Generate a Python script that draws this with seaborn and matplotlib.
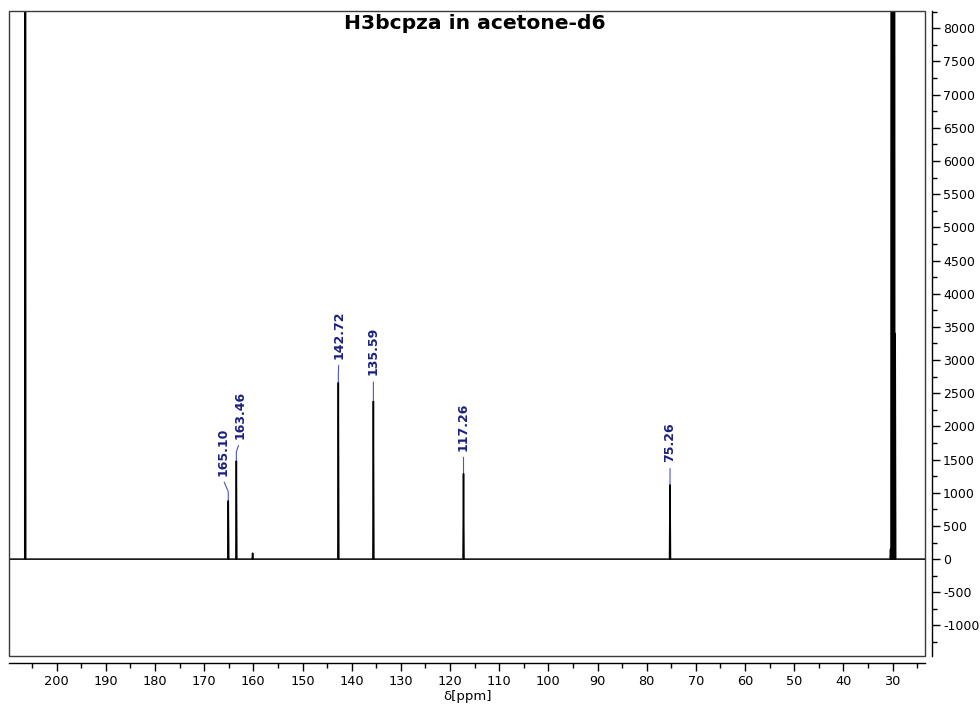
import numpy as np
import pandas as pd
import matplotlib
matplotlib.use('Agg')
import matplotlib.pyplot as plt
from matplotlib.ticker import MultipleLocator, FixedLocator
from matplotlib.patches import Rectangle
import seaborn as sns

sns.set_style('ticks')
plt.rcParams['font.family'] = ['DejaVu Sans']
plt.rcParams['text.color'] = 'black'
plt.rcParams['axes.labelcolor'] = 'black'
plt.rcParams['xtick.color'] = 'black'
plt.rcParams['ytick.color'] = 'black'

# ---------------- data ----------------
title = "H3bcpza in acetone-d6"
x_label = "δ[ppm]"

peak_ppm = [206.40, 165.10, 163.46, 160.15, 142.72, 135.59, 117.26, 75.26,
            30.41, 30.22, 30.03, 29.84, 29.65, 29.46]
peak_int = [40000, 880, 1480, 90, 2660, 2380, 1290, 1120,
            150, 30000, 30000, 30000, 30000, 3400]

label_ppm = [165.10, 163.46, 142.72, 135.59, 117.26, 75.26]
label_int = [880, 1480, 2660, 2380, 1290, 1120]
label_text = ["165.10", "163.46", "142.72", "135.59", "117.26", "75.26"]

x_range = [209.7, 23.4]
y_range = [-1460, 8260]
x_ticks = [200, 190, 180, 170, 160, 150, 140, 130, 120, 110, 100, 90, 80, 70, 60, 50, 40, 30]
y_ticks = [-1000, -500, 0, 500, 1000, 1500, 2000, 2500, 3000, 3500, 4000,
           4500, 5000, 5500, 6000, 6500, 7000, 7500, 8000]

# ---------------- layout (pixels) ----------------
label_dx = [-5.6, 3.3, 0.5, 0.0, 0.0, 0.0]
label_dy = [25, 22, 24, 26, 23, 23]

# build stick spectrum polyline
half_w = 0.1
xs = [x_range[0]]
ys = [0]
for p, h in sorted(zip(peak_ppm, peak_int), key=lambda t: -t[0]):
    xs += [p + half_w, p, p - half_w]
    ys += [0, h, 0]
xs.append(x_range[1])
ys.append(0)
spec = pd.DataFrame({"ppm": xs, "intensity": ys})

W, H = 980, 707
fig = plt.figure(figsize=(W / 100, H / 100), dpi=100)
ax = fig.add_axes([9 / W, (H - 656) / H, 916 / W, 645 / H])

sns.lineplot(data=spec, x="ppm", y="intensity", sort=False, estimator=None,
             color="black", lw=1.1, ax=ax)

ax.set_xlim(*x_range)
ax.set_ylim(*y_range)

# box frame
ax.add_patch(Rectangle((0, 0), 1, 1, transform=ax.transAxes, fill=False,
                       ec="#3a3a3a", lw=1.0, clip_on=False, zorder=5))

ax.spines["left"].set_visible(False)
ax.spines["top"].set_visible(False)
ax.spines["bottom"].set_position(("outward", 5))
ax.spines["right"].set_position(("outward", 5))
for s in ("bottom", "right"):
    ax.spines[s].set_color("black")
    ax.spines[s].set_linewidth(1.0)

ax.xaxis.set_major_locator(FixedLocator(x_ticks))
ax.xaxis.set_minor_locator(MultipleLocator(5))
ax.yaxis.set_major_locator(FixedLocator(y_ticks))
ax.yaxis.set_minor_locator(MultipleLocator(250))
ax.set_xticklabels([str(t) for t in x_ticks])
ax.set_yticklabels([str(t) for t in y_ticks])
ax.yaxis.tick_right()
ax.tick_params(axis="x", which="major", length=6, width=1, direction="out",
               labelsize=9.3, pad=3, color="black", labelcolor="black")
ax.tick_params(axis="y", which="major", length=6, width=1, direction="out",
               labelsize=9, pad=2, color="black", labelcolor="black")
ax.tick_params(axis="both", which="minor", length=3.5, width=1, direction="out",
               color="black")
ax.set_ylabel("")
ax.set_xlabel(x_label, fontsize=9.5, labelpad=1, color="black")

for p, h, t, dx, dy in zip(label_ppm, label_int, label_text, label_dx, label_dy):
    ax.annotate(t, xy=(p, h), xytext=(dx * 0.72, dy * 0.72),
                textcoords="offset points", rotation=90, ha="center", va="bottom",
                fontsize=9, fontweight="bold", color="#1a2080",
                arrowprops=dict(arrowstyle="-", color="#4a55c0", lw=0.8,
                                shrinkA=2.5, shrinkB=0.5, relpos=(0.5, 0),
                                connectionstyle="arc,angleA=-90,angleB=90,armA=3,armB=9,rad=0"))

fig.text(474.5 / W, 1 - 14 / H, title, ha="center", va="top",
         fontsize=14.6, fontweight="bold", family=["DejaVu Sans"], color="black")

fig.savefig("out.png", dpi=100)
